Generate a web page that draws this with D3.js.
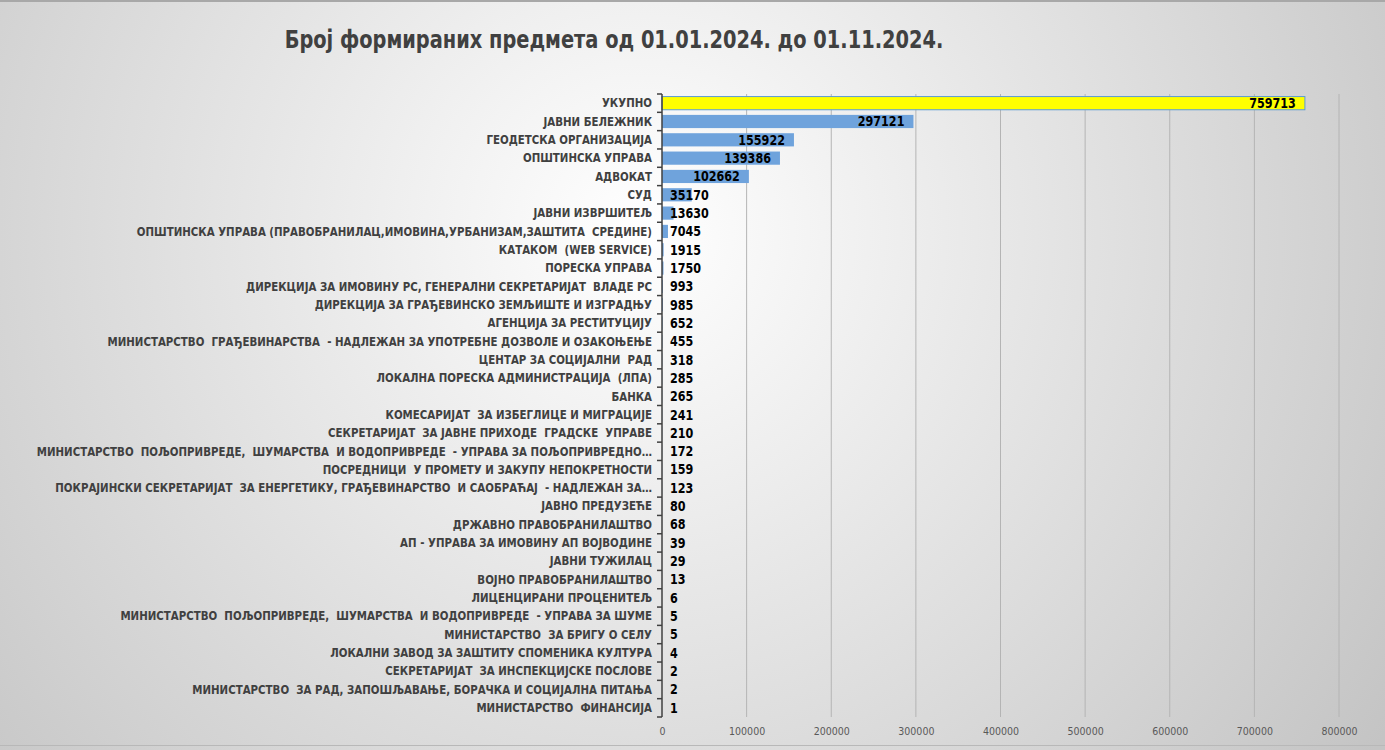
<!DOCTYPE html>
<html>
<head>
<meta charset="utf-8">
<script src="https://cdn.jsdelivr.net/npm/d3@7"></script>
<style>
  body { margin: 0; }
  svg { display: block; }
</style>
</head>
<body>
<div id="chart"></div>
<script>
let w = 1385
let h = 750

// categories and values, top to bottom as in the picture
let categories = [
  "УКУПНО",
  "ЈАВНИ БЕЛЕЖНИК",
  "ГЕОДЕТСКА ОРГАНИЗАЦИЈА",
  "ОПШТИНСКА УПРАВА",
  "АДВОКАТ",
  "СУД",
  "ЈАВНИ ИЗВРШИТЕЉ",
  "ОПШТИНСКА УПРАВА (ПРАВОБРАНИЛАЦ,ИМОВИНА,УРБАНИЗАМ,ЗАШТИТА  СРЕДИНЕ)",
  "КАТАКОМ  (WEB SERVICE)",
  "ПОРЕСКА УПРАВА",
  "ДИРЕКЦИЈА ЗА ИМОВИНУ РС, ГЕНЕРАЛНИ СЕКРЕТАРИЈАТ  ВЛАДЕ РС",
  "ДИРЕКЦИЈА ЗА ГРАЂЕВИНСКО ЗЕМЉИШТЕ И ИЗГРАДЊУ",
  "АГЕНЦИЈА ЗА РЕСТИТУЦИЈУ",
  "МИНИСТАРСТВО  ГРАЂЕВИНАРСТВА  - НАДЛЕЖАН ЗА УПОТРЕБНЕ ДОЗВОЛЕ И ОЗАКОЊЕЊЕ",
  "ЦЕНТАР ЗА СОЦИЈАЛНИ  РАД",
  "ЛОКАЛНА ПОРЕСКА АДМИНИСТРАЦИЈА  (ЛПА)",
  "БАНКА",
  "КОМЕСАРИЈАТ  ЗА ИЗБЕГЛИЦЕ И МИГРАЦИЈЕ",
  "СЕКРЕТАРИЈАТ  ЗА ЈАВНЕ ПРИХОДЕ  ГРАДСКЕ  УПРАВЕ",
  "МИНИСТАРСТВО  ПОЉОПРИВРЕДЕ,  ШУМАРСТВА  И ВОДОПРИВРЕДЕ  - УПРАВА ЗА ПОЉОПРИВРЕДНО…",
  "ПОСРЕДНИЦИ  У ПРОМЕТУ И ЗАКУПУ НЕПОКРЕТНОСТИ",
  "ПОКРАЈИНСКИ СЕКРЕТАРИЈАТ  ЗА ЕНЕРГЕТИКУ, ГРАЂЕВИНАРСТВО  И САОБРАЋАЈ  - НАДЛЕЖАН ЗА…",
  "ЈАВНО ПРЕДУЗЕЋЕ",
  "ДРЖАВНО ПРАВОБРАНИЛАШТВО",
  "АП - УПРАВА ЗА ИМОВИНУ АП ВОЈВОДИНЕ",
  "ЈАВНИ ТУЖИЛАЦ",
  "ВОЈНО ПРАВОБРАНИЛАШТВО",
  "ЛИЦЕНЦИРАНИ ПРОЦЕНИТЕЉ",
  "МИНИСТАРСТВО  ПОЉОПРИВРЕДЕ,  ШУМАРСТВА  И ВОДОПРИВРЕДЕ  - УПРАВА ЗА ШУМЕ",
  "МИНИСТАРСТВО  ЗА БРИГУ О СЕЛУ",
  "ЛОКАЛНИ ЗАВОД ЗА ЗАШТИТУ СПОМЕНИКА КУЛТУРА",
  "СЕКРЕТАРИЈАТ  ЗА ИНСПЕКЦИЈСКЕ ПОСЛОВЕ",
  "МИНИСТАРСТВО  ЗА РАД, ЗАПОШЉАВАЊЕ, БОРАЧКА И СОЦИЈАЛНА ПИТАЊА",
  "МИНИСТАРСТВО  ФИНАНСИЈА"
]
let values = [759713, 297121, 155922, 139386, 102662, 35170, 13630, 7045, 1915, 1750,
  993, 985, 652, 455, 318, 285, 265, 241, 210, 172,
  159, 123, 80, 68, 39, 29, 13, 6, 5, 5,
  4, 2, 2, 1]
let xTicks = [0, 100000, 200000, 300000, 400000, 500000, 600000, 700000, 800000]
let title = "Број формираних предмета од 01.01.2024. до 01.11.2024."

let data = categories.map((c, i) => ({name: c, value: values[i]}))

let labelFont = "'Liberation Sans Narrow','DejaVu Sans Condensed','Open Sans',sans-serif"

let viz = d3.select("#chart")
  .append("svg")
    .attr("width", w)
    .attr("height", h)
;

//background gradient
let defs = viz.append("defs")
let grad = defs.append("radialGradient")
  .attr("id", "bg")
  .attr("gradientUnits", "userSpaceOnUse")
  .attr("cx", 640).attr("cy", 230).attr("r", 900)
grad.append("stop").attr("offset", "0%").attr("stop-color", "#ffffff")
grad.append("stop").attr("offset", "100%").attr("stop-color", "#c4c4c4")

viz.append("rect")
  .attr("width", w).attr("height", h)
  .attr("fill", "url(#bg)")
viz.append("line")
  .attr("x1", 0).attr("x2", w).attr("y1", 1).attr("y2", 1)
  .attr("stroke", "#a8a8a8").attr("stroke-width", 2)
viz.append("line")
  .attr("x1", 0).attr("x2", w).attr("y1", 745.5).attr("y2", 745.5)
  .attr("stroke", "#b8b8b8").attr("stroke-width", 1)

//title (squeezed to look like the narrow original font)
viz.append("text")
  .text(title)
  .attr("transform", "translate(614,48) scale(0.88,1)")
  .attr("text-anchor", "middle")
  .attr("fill", "#404040")
  .attr("font-family", labelFont)
  .attr("font-weight", "bold")
  .attr("font-size", 24.5)

//scales
let xScale = d3.scaleLinear().domain([0, 800000]).range([662, 1339])
let yScale = d3.scaleBand().domain(categories).range([94, 717]).paddingInner(0.28).paddingOuter(0.14)

//gridlines
viz.append("g")
  .selectAll("line")
  .data(xTicks.slice(1))
  .enter()
  .append("line")
    .attr("x1", d => xScale(d)).attr("x2", d => xScale(d))
    .attr("y1", 94).attr("y2", 717)
    .attr("stroke", "#b4b4b4")
    .attr("stroke-width", 1)

//x axis labels
let xAxis = viz.append("g")
  .attr("transform", "translate(0,717)")
  .call(d3.axisBottom(xScale).tickValues(xTicks).tickSize(0).tickPadding(11).tickFormat(d3.format("d")))
xAxis.select(".domain").remove()
xAxis.selectAll("text")
  .attr("fill", "#595959")
  .attr("font-family", labelFont)
  .attr("font-size", 10.5)

//bars
viz.append("g")
  .selectAll("rect")
  .data(data)
  .enter()
  .append("rect")
    .attr("x", xScale(0))
    .attr("y", d => yScale(d.name))
    .attr("width", d => xScale(d.value) - xScale(0))
    .attr("height", yScale.bandwidth())
    .attr("fill", (d, i) => i == 0 ? "#ffff00" : "#6fa3dc")
    .attr("stroke", (d, i) => i == 0 ? "#5b9bd5" : "none")
    .attr("stroke-width", 1)

//y axis with ticks between categories
let yAxisG = viz.append("g")
yAxisG.append("line")
  .attr("x1", 662).attr("x2", 662).attr("y1", 94).attr("y2", 717)
  .attr("stroke", "#404040").attr("stroke-width", 1.5)
yAxisG.selectAll("line.tk")
  .data(d3.range(categories.length + 1))
  .enter()
  .append("line")
    .classed("tk", true)
    .attr("x1", 657).attr("x2", 662)
    .attr("y1", i => 94 + i * yScale.step())
    .attr("y2", i => 94 + i * yScale.step())
    .attr("stroke", "#404040").attr("stroke-width", 1.5)

//category labels
viz.append("g")
  .selectAll("text")
  .data(data)
  .enter()
  .append("text")
    .text(d => d.name)
    .attr("transform", d => "translate(652," + (yScale(d.name) + yScale.bandwidth() / 2) + ") scale(0.95,1)")
    .attr("dy", "0.35em")
    .attr("text-anchor", "end")
    .attr("fill", "#404040")
    .attr("font-family", labelFont)
    .attr("font-weight", "bold")
    .attr("font-size", 12)
    .style("white-space", "pre")

//value labels: inside end, pushed to the base if not enough room
let valueLabels = viz.append("g")
  .selectAll("text")
  .data(data)
  .enter()
  .append("text")
    .text(d => d.value)
    .attr("dy", "0.36em")
    .attr("fill", "#000000")
    .attr("font-family", labelFont)
    .attr("font-weight", "bold")
    .attr("font-size", 13.5)
valueLabels.each(function(d) {
  let tw = this.getComputedTextLength() * 0.92
  let x = Math.max(xScale(d.value) - tw - 9, xScale(0) + 8)
  let y = yScale(d.name) + yScale.bandwidth() / 2
  d3.select(this).attr("transform", "translate(" + x + "," + y + ") scale(0.92,1)")
})
</script>
</body>
</html>
